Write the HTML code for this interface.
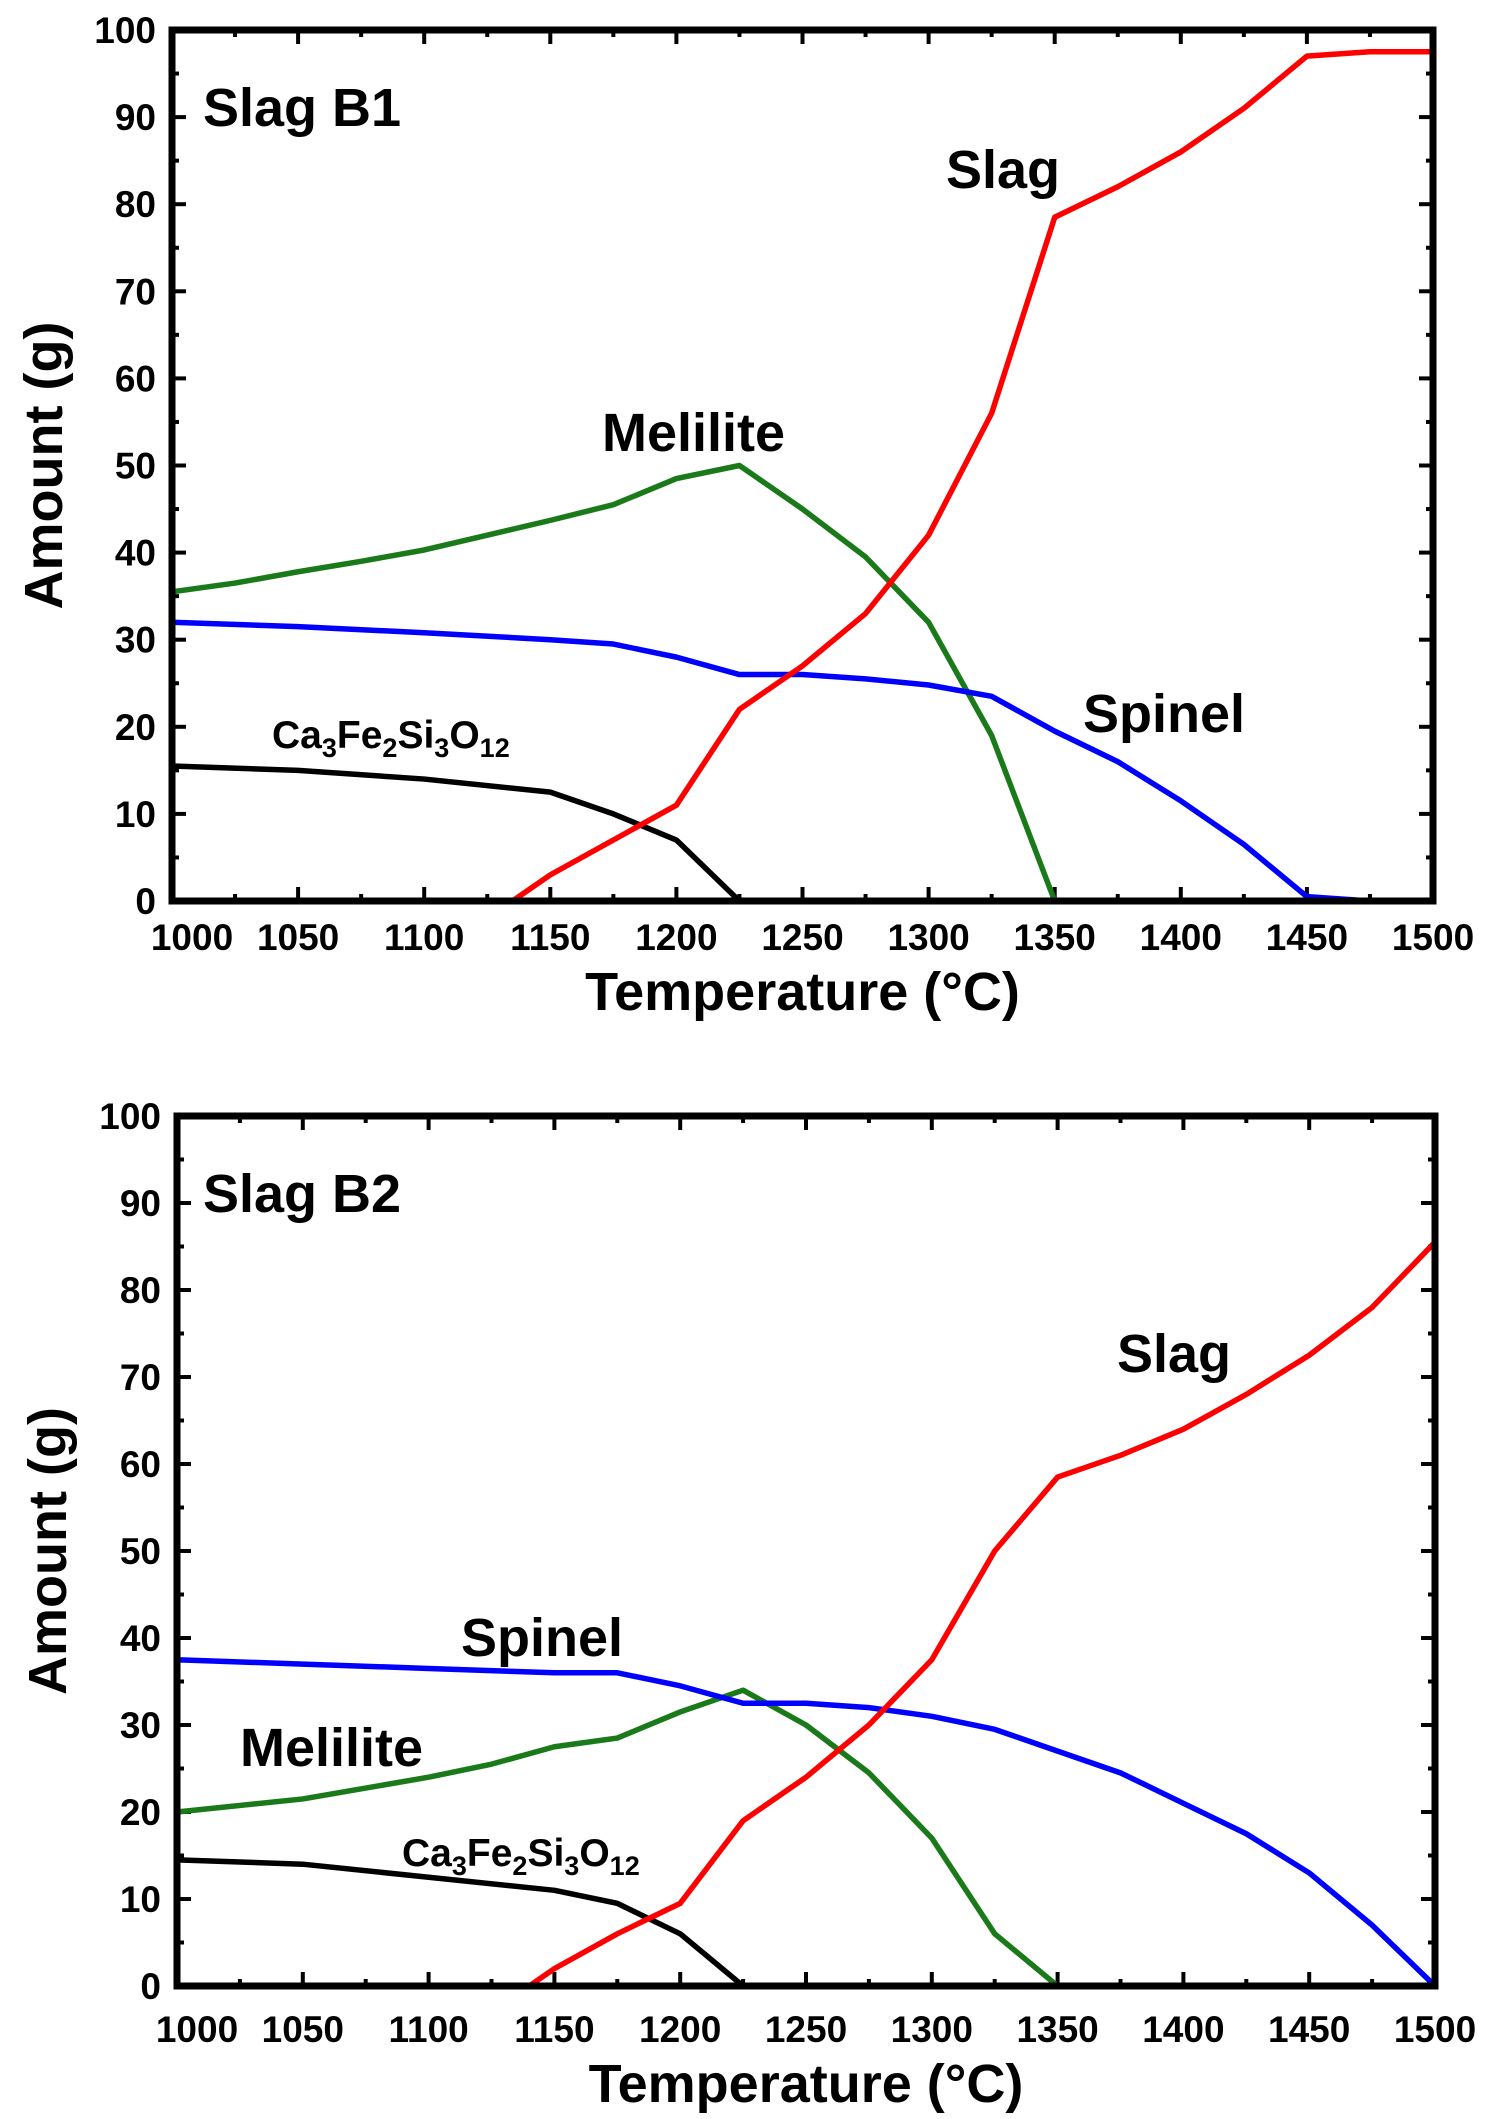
<!DOCTYPE html>
<html><head><meta charset="utf-8"><style>
html,body{margin:0;padding:0;background:#fff;}
svg{display:block;}
text{font-family:"Liberation Sans",Arial,sans-serif;font-weight:bold;fill:#000;}
</style></head><body>
<svg id="s" width="1491" height="2119" viewBox="0 0 1491 2119"></svg>
<script>
const xTicks=[1000,1050,1100,1150,1200,1250,1300,1350,1400,1450,1500];
const yTicks=[0,10,20,30,40,50,60,70,80,90,100];
const b1SlagT=[1135,1150,1175,1200,1225,1250,1275,1300,1325,1350,1375,1400,1425,1450,1475,1500];
const b1SlagV=[0,3,7,11,22,27,33,42,56,78.5,82,86,91,97,97.5,97.5];
const b1MelT=[1000,1025,1050,1075,1100,1125,1150,1175,1200,1225,1250,1275,1300,1325,1350,1500];
const b1MelV=[35.5,36.5,37.8,39,40.3,42,43.7,45.5,48.5,50,45,39.5,32,19,0,0];
const b1SpiT=[1000,1050,1100,1150,1175,1200,1225,1250,1275,1300,1325,1350,1375,1400,1425,1450,1475,1500];
const b1SpiV=[32,31.5,30.8,30,29.5,28,26,26,25.5,24.8,23.5,19.5,16,11.5,6.5,0.5,0,0];
const b1CaT=[1000,1050,1100,1150,1175,1200,1225];
const b1CaV=[15.5,15,14,12.5,10,7,0];
const b2SlagT=[1140,1150,1175,1200,1225,1250,1275,1300,1325,1350,1375,1400,1425,1450,1475,1500];
const b2SlagV=[0,2,6,9.5,19,24,30,37.5,50,58.5,61,64,68,72.5,78,85.5];
const b2SpiT=[1000,1050,1100,1150,1175,1200,1225,1250,1275,1300,1325,1350,1375,1400,1425,1450,1475,1500];
const b2SpiV=[37.5,37,36.5,36,36,34.5,32.5,32.5,32,31,29.5,27,24.5,21,17.5,13,7,0];
const b2MelT=[1000,1050,1100,1125,1150,1175,1200,1225,1250,1275,1300,1325,1350];
const b2MelV=[20,21.5,24,25.5,27.5,28.5,31.5,34,30,24.5,17,6,0];
const b2CaT=[1000,1050,1100,1150,1175,1200,1225];
const b2CaV=[14.5,14,12.5,11,9.5,6,0];

const NS='http://www.w3.org/2000/svg';
const svg=document.getElementById('s');
function mk(tag,attrs,parent){const e=document.createElementNS(NS,tag);for(const k in attrs)e.setAttribute(k,attrs[k]);(parent||svg).appendChild(e);return e;}

function chart(cfg){
  const g=mk('g',{});
  
  
  const L=cfg.L,R=cfg.R,T=cfg.T,B=cfg.B;
  const X=t=>L+(t-1000)/500*(R-L);
  const Y=v=>B-v/100*(B-T);
  for(let v=0;v<=100;v+=5){
    const maj=v%10===0,len=maj?14:7;
    const t1=mk('line',{x1:L,x2:L+len,y1:Y(v),y2:Y(v),stroke:'#000','stroke-width':4},g);
    
    
    const t2=mk('line',{x1:R,x2:R-len,y1:Y(v),y2:Y(v),stroke:'#000','stroke-width':4},g);
    
    
  }
  for(let t=1000;t<=1500;t+=25){
    const maj=t%50===0,len=maj?14:7;
    const a=mk('line',{x1:X(t),x2:X(t),y1:B,y2:B-len,stroke:'#000','stroke-width':4},g);
    
    
    const b=mk('line',{x1:X(t),x2:X(t),y1:T,y2:T+len,stroke:'#000','stroke-width':4},g);
    
    
  }
  yTicks.forEach(v=>{
    const tx=mk('text',{x:L-16,y:Y(v)+13,'text-anchor':'end','font-size':37},g);
    tx.textContent=v;
    
    
  });
  xTicks.forEach(t=>{
    let x=X(t); if(t===1000)x+=20;
    const tx=mk('text',{x:x,y:cfg.xl,'text-anchor':'middle','font-size':37},g);
    tx.textContent=t;
    
    
  });
  cfg.series.forEach(s=>{
    const p=mk('polyline',{points:s.t.map((t,i)=>X(t)+','+Y(s.v[i])).join(' '),fill:'none',stroke:s.c,'stroke-width':5.5,'stroke-linejoin':'round'},g);
    
    
  });
  const fr=mk('rect',{x:L,y:T,width:R-L,height:B-T,fill:'none',stroke:'#000','stroke-width':7},g);
  
  
  const xt=mk('text',{x:(L+R)/2,y:cfg.xt,'text-anchor':'middle','font-size':54},g);
  xt.textContent='Temperature (°C)';
  
  
  const yt=mk('text',{x:0,y:0,'text-anchor':'middle','font-size':54,transform:'translate('+cfg.yx+','+(T+B)/2+') rotate(-90)'},g);
  yt.textContent='Amount (g)';
  
  
  cfg.labels.forEach(l=>{
    const tx=mk('text',{x:l[0],y:l[1],'font-size':54},g);
    if(l[2]==='CA'){
      tx.innerHTML='Ca<tspan font-size="27" dy="9">3</tspan><tspan dy="-9">Fe</tspan><tspan font-size="27" dy="9">2</tspan><tspan dy="-9">Si</tspan><tspan font-size="27" dy="9">3</tspan><tspan dy="-9">O</tspan><tspan font-size="27" dy="9">12</tspan>';
      tx.setAttribute('font-size',39);
    } else tx.textContent=l[2];
    
    
  });
}
chart({name:'chart-slag-b1',L:172,R:1433,T:30,B:901,xl:950,xt:1010,yx:62,
 series:[{n:'melilite-line-b1',t:b1MelT,v:b1MelV,c:'#1a7a1a'},{n:'spinel-line-b1',t:b1SpiT,v:b1SpiV,c:'#0000ff'},{n:'ca-garnet-line-b1',t:b1CaT,v:b1CaV,c:'#000'},{n:'slag-line-b1',t:b1SlagT,v:b1SlagV,c:'#ff0000'}],
 labels:[[203,126,'Slag B1'],[946,188,'Slag'],[602,451,'Melilite'],[1083,732,'Spinel'],[272,748,'CA']]});
chart({name:'chart-slag-b2',L:177,R:1435,T:1116,B:1986,xl:2042,xt:2102,yx:66,
 series:[{n:'melilite-line-b2',t:b2MelT,v:b2MelV,c:'#1a7a1a'},{n:'spinel-line-b2',t:b2SpiT,v:b2SpiV,c:'#0000ff'},{n:'ca-garnet-line-b2',t:b2CaT,v:b2CaV,c:'#000'},{n:'slag-line-b2',t:b2SlagT,v:b2SlagV,c:'#ff0000'}],
 labels:[[203,1212,'Slag B2'],[1117,1372,'Slag'],[461,1656,'Spinel'],[240,1766,'Melilite'],[402,1866,'CA']]});
</script>
</body></html>
